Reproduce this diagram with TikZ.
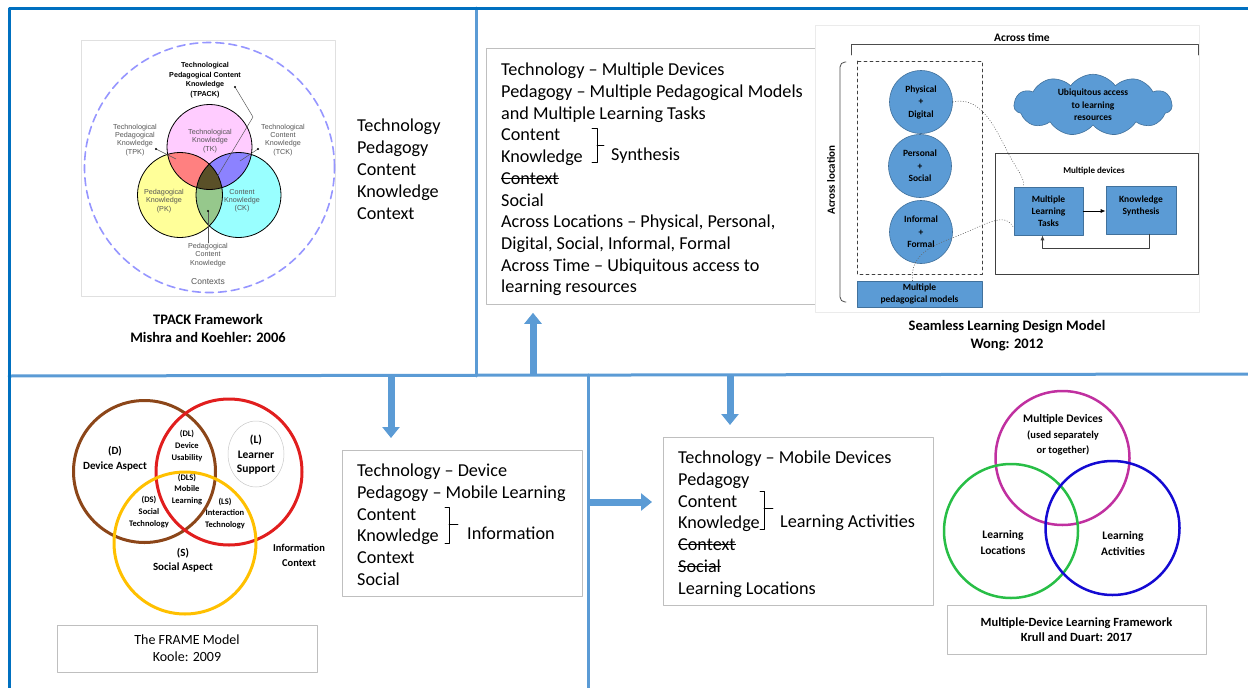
\documentclass[tikz,border=0pt]{standalone}
\usepackage{fontspec}
\setmainfont{Carlito}
\newfontfamily\arialfont{Liberation Sans}
\usetikzlibrary{arrows.meta,shapes.symbols,positioning}

\newsavebox\strkbox
\newcommand{\strk}[1]{\sbox\strkbox{#1}\rlap{\rule[0.3em]{\wd\strkbox}{0.06em}}\usebox\strkbox}

\definecolor{frameblue}{RGB}{0,112,192}
\definecolor{lineblue}{RGB}{91,155,213}
\definecolor{boxgray}{RGB}{191,191,191}
\definecolor{shapeblue}{RGB}{91,155,213}
\definecolor{shapeedge}{RGB}{65,113,156}
\definecolor{labelgray}{RGB}{85,85,85}
\definecolor{ctxviolet}{RGB}{150,150,255}
\definecolor{tkpink}{RGB}{255,204,255}
\definecolor{pkyellow}{RGB}{255,255,153}
\definecolor{ckcyan}{RGB}{153,255,255}
\definecolor{tpkred}{RGB}{255,128,128}
\definecolor{tckblue}{RGB}{140,130,255}
\definecolor{pckgreen}{RGB}{150,200,140}
\definecolor{tpackdark}{RGB}{90,80,40}
\definecolor{devbrown}{RGB}{140,70,25}
\definecolor{learnred}{RGB}{225,30,30}
\definecolor{socgold}{RGB}{255,192,0}
\definecolor{mdmagenta}{RGB}{192,48,160}
\definecolor{locgreen}{RGB}{40,190,70}
\definecolor{actblue}{RGB}{20,10,210}

\begin{document}
\begin{tikzpicture}[x=1pt,y=-1pt,line cap=round,line join=round,
  outerline/.style={draw=frameblue,line width=3pt},
  divline/.style={draw=lineblue,line width=3pt},
  bigarrow/.style={draw=lineblue,line width=7pt,line cap=butt,-{Triangle[width=17pt,length=11pt]}},
  txtbox/.style={draw=boxgray,line width=0.8pt,fill=white},
  listtxt/.style={anchor=north west,align=left,inner sep=0pt,font=\fontsize{18.2}{21.7}\selectfont},
  sidetxt/.style={anchor=base west,inner sep=0pt,font=\fontsize{18.2}{21.7}\selectfont},
  capbold/.style={align=center,inner sep=0pt,font=\bfseries\fontsize{14.5}{18}\selectfont},
  tpacklbl/.style={align=center,inner sep=0pt,text=labelgray,font=\arialfont\fontsize{7.2}{8.2}\selectfont},
  seamshape/.style={fill=shapeblue,draw=shapeedge,line width=0.6pt,align=center,inner sep=0pt,
    font=\bfseries\fontsize{9.5}{12.5}\selectfont},
  seamlbl/.style={align=center,inner sep=0pt,font=\bfseries\fontsize{9.5}{12}\selectfont},
  framelbl/.style={align=center,inner sep=0pt,font=\bfseries\fontsize{11}{14.5}\selectfont},
  framesmall/.style={align=center,inner sep=0pt,font=\bfseries\fontsize{8.5}{11.8}\selectfont},
  venn/.style={line width=3pt},
  mdllbl/.style={align=center,inner sep=0pt,font=\bfseries\fontsize{11.5}{16.5}\selectfont}]
\useasboundingbox (0,0) rectangle (1248,688);

% frame and dividers
\draw[divline] (9,376) -- (1248,374);
\draw[divline] (476,8) -- (476,376);
\draw[divline] (588,375) -- (588,688);
\draw[outerline] (9,688) -- (9,8) -- (1248,8);

% TPACK framework
\draw[draw=black!12,fill=white] (81,40) rectangle (335,296);
\coordinate (tk) at (209.5,147);
\coordinate (pk) at (180,195);
\coordinate (ck) at (238.5,195);
\fill[tkpink] (tk) circle[radius=42.5pt];
\fill[pkyellow] (pk) circle[radius=42.5pt];
\fill[ckcyan] (ck) circle[radius=42.5pt];
\begin{scope}
  \clip (pk) circle[radius=42.5pt];
  \fill[pckgreen] (ck) circle[radius=42.5pt];
\end{scope}
\begin{scope}
  \clip (tk) circle[radius=42.5pt];
  \fill[tpkred] (pk) circle[radius=42.5pt];
  \fill[tckblue] (ck) circle[radius=42.5pt];
  \clip (pk) circle[radius=42.5pt];
  \fill[tpackdark] (ck) circle[radius=42.5pt];
\end{scope}
\draw[line width=0.8pt] (tk) circle[radius=42.5pt] (pk) circle[radius=42.5pt] (ck) circle[radius=42.5pt];
\draw[ctxviolet,line width=1.6pt,dash pattern=on 8pt off 5pt] (209.5,167.5) circle[radius=125pt];

\node[tpacklbl,text=black,font=\arialfont\bfseries\fontsize{7.2}{9.5}\selectfont] (tpackLbl) at (205,80)
  {Technological\\Pedagogical Content\\Knowledge\\(TPACK)};
\node[tpacklbl] (tkLbl) at (210,141) {Technological\\Knowledge\\(TK)};
\node[tpacklbl] (tpkLbl) at (135,140) {Technological\\Pedagogical\\Knowledge\\(TPK)};
\node[tpacklbl] (tckLbl) at (283,140) {Technological\\Content\\Knowledge\\(TCK)};
\node[tpacklbl] (pkLbl) at (164,201) {Pedagogical\\Knowledge\\(PK)};
\node[tpacklbl] (ckLbl) at (242,201) {Content\\Knowledge\\(CK)};
\node[tpacklbl] (pckLbl) at (208,255) {Pedagogical\\Content\\Knowledge};
\node[tpacklbl,font=\arialfont\fontsize{8.5}{10}\selectfont] (ctxLbl) at (208,282) {Contexts};
\draw[labelgray,line width=0.5pt] (235,87) -- (253,117) -- (217,177);
\draw[labelgray,line width=0.5pt] (156,149) -- (176,159);
\draw[labelgray,line width=0.5pt] (258,149) -- (240,161);
\draw[labelgray,line width=0.5pt] (208,243) -- (208,211);
\fill[black] (235,87) circle[radius=1.2pt] (156,149) circle[radius=1.2pt]
  (258,149) circle[radius=1.2pt] (208,211) circle[radius=1.2pt];

\node[capbold] (tpackCap) at (208,328) {TPACK Framework\\Mishra and Koehler: 2006};
\node[listtxt,font=\fontsize{18.2}{22}\selectfont] (tpackList) at (357,119)
  {Technology\\Pedagogy\\Content\\Knowledge\\Context};

% list for the seamless model
\node[txtbox,anchor=north west,minimum width=329,minimum height=256] (seamBox) at (486,48) {};
\node[listtxt] (seamList) at (501,63)
  {Technology -- Multiple Devices\\Pedagogy -- Multiple Pedagogical Models\\and Multiple Learning Tasks\\
   Content\\Knowledge\\\strk{Context}\\Social\\Across Locations -- Physical, Personal,\\
   Digital, Social, Informal, Formal\\Across Time -- Ubiquitous access to\\learning resources};
\draw[line width=0.7pt] (592,128) -- (597,128) -- (597,162) -- (592,162) (597,145) -- (604,145);
\node[sidetxt] (synLbl) at (611,160) {Synthesis};

% seamless learning design model
\draw[draw=black!8,fill=white] (815,25) rectangle (1199,312);
\node[seamlbl,font=\bfseries\fontsize{11.5}{13}\selectfont] (timeLbl) at (1022,37) {Across time};
\draw[black!70,line width=0.8pt] (851,55) -- (851,44) -- (1198,44) -- (1198,55);
\node[seamlbl,font=\bfseries\fontsize{11}{13}\selectfont,rotate=90] (locLbl) at (831,180) {Across location};
\draw[black!70,line width=0.8pt,rounded corners=5pt] (846,62) -- (840,62) -- (840,302) -- (846,302);
\draw[black!75,line width=0.8pt,dashed] (857,61) rectangle (982,274);
\node[seamshape,circle,minimum size=63] (physDig) at (921,102) {Physical\\+\\Digital};
\node[seamshape,circle,minimum size=63] (persSoc) at (920,166) {Personal\\+\\Social};
\node[seamshape,circle,minimum size=63] (infForm) at (921,232) {Informal\\+\\Formal};
\node[seamshape,minimum width=125,minimum height=26,font=\bfseries\fontsize{9.5}{12}\selectfont] (pedModels) at (919.5,294)
  {Multiple\\pedagogical models};
\node[seamshape,cloud,cloud puffs=11,cloud puff arc=110,aspect=2.8,minimum width=158,minimum height=57] (ubiCloud) at (1093,105)
  {Ubiquitous access\\to learning\\resources};
\draw[black!75,line width=0.8pt] (995,153) rectangle (1198,274);
\node[seamlbl,font=\bfseries\fontsize{9}{11}\selectfont] (devLbl) at (1094,171) {Multiple devices};
\node[seamshape,minimum width=69,minimum height=48,font=\bfseries\fontsize{9.5}{12}\selectfont] (mlTasks) at (1048.5,211)
  {Multiple\\Learning\\Tasks};
\node[seamshape,minimum width=70,minimum height=48,font=\bfseries\fontsize{9.5}{12}\selectfont] (knSyn) at (1141,210)
  {Knowledge\\Synthesis\\[-2pt]};
\draw[line width=0.8pt,-{Latex[length=5pt,width=4pt]}] (mlTasks.east) -- (mlTasks.east -| knSyn.west);
\draw[black!75,line width=0.8pt,-{Latex[length=5pt,width=4pt]}] ([shift={(8,0)}]knSyn.south) -- ++(0,14) -| ([shift={(-6,0)}]mlTasks.south);
\draw[black!60,line width=0.6pt,dotted] (physDig.east) .. controls (985,94) and (1000,140) .. (1012,160)
  .. controls (1020,174) and (1024,178) .. ([shift={(10,0)}]mlTasks.north west);
\draw[black!60,line width=0.6pt,dotted] ([shift={(-7,0)}]pedModels.north) .. controls (910,255) and (930,246) .. (960,235)
  .. controls (990,222) and (1006,212) .. ([shift={(0,17)}]mlTasks.west);
\node[capbold] (seamCap) at (1007,336) {Seamless Learning Design Model\\Wong: 2012};

% arrows from the dividers
\coordinate (upFoot) at (533,376);
\coordinate (downFootA) at (391,376);
\coordinate (downFootB) at (730,375);
\coordinate (rightFoot) at (588,502);
\draw[bigarrow] (upFoot) -- ([shift={(0,8)}]upFoot |- seamBox.south);

% FRAME model
\draw[devbrown,venn] (144.5,471.5) circle[radius=71pt];
\draw[learnred,venn] (229,472) circle[radius=73pt];
\draw[socgold,venn] (185,543) circle[radius=71pt];
\draw[black!22,line width=0.5pt] (256,454) ellipse[x radius=28pt,y radius=33pt];
\node[framelbl] (devAsp) at (115,459) {(D)\\Device Aspect};
\node[framelbl,font=\bfseries\fontsize{11.5}{14.5}\selectfont] (lrnSup) at (256,455) {(L)\\Learner\\Support};
\node[framelbl] (socAsp) at (183,560.5) {(S)\\Social Aspect};
\node[framesmall] (devUse) at (187,446) {(DL)\\Device\\Usability};
\node[framesmall] (mobLrn) at (187,489.5) {(DLS)\\Mobile\\Learning};
\node[framesmall] (socTech) at (149,512) {(DS)\\Social\\Technology};
\node[framesmall] (intTech) at (225,513.5) {(LS)\\Interaction\\Technology};
\node[framelbl,font=\bfseries\fontsize{10.5}{15}\selectfont] (infCtx) at (299,555.5) {Information\\Context};
\node[draw=boxgray,line width=0.8pt,minimum width=260,minimum height=47,align=center,inner sep=0pt,
  font=\fontsize{14}{17}\selectfont] (frameCap) at (187,648.5) {The FRAME Model\\Koole: 2009};

% list for the FRAME model
\node[txtbox,anchor=north west,minimum width=240,minimum height=146] (frameBox) at (342,450) {};
\node[listtxt] (frameList) at (357,464)
  {Technology -- Device\\Pedagogy -- Mobile Learning\\Content\\Knowledge\\Context\\Social};
\draw[line width=0.7pt] (445,507) -- (449,507) -- (449,543) -- (445,543) (449,524) -- (458,524);
\node[sidetxt] (infLbl) at (467,539) {Information};
\draw[bigarrow] (downFootA) -- ([shift={(0,-12)}]downFootA |- frameBox.north);

% list for the multiple-device framework
\node[txtbox,anchor=north west,minimum width=270,minimum height=168] (mdlBox) at (663,437) {};
\node[listtxt] (mdlList) at (678,451)
  {Technology -- Mobile Devices\\Pedagogy\\Content\\Knowledge\\\strk{Context}\\\strk{Social}\\Learning Locations};
\draw[line width=0.7pt] (760,491) -- (764,491) -- (764,529) -- (760,529) (764,508) -- (773,508);
\node[sidetxt] (actLbl) at (780,527) {Learning Activities};
\draw[bigarrow] (downFootB) -- ([shift={(0,-12)}]downFootB |- mdlBox.north);
\draw[bigarrow] (rightFoot) -- ([shift={(-11,0)}]rightFoot -| mdlBox.west);

% multiple-device learning framework
\draw[mdmagenta,line width=2.5pt] (1062.5,458) circle[radius=67pt];
\draw[locgreen,line width=2.5pt] (1011,531) circle[radius=67pt];
\draw[actblue,line width=2.5pt] (1112.5,528) circle[radius=67pt];
\node[mdllbl] (mdDev) at (1063,419) {Multiple Devices};
\node[mdllbl,font=\bfseries\fontsize{10.5}{15}\selectfont] (mdUse) at (1063,442.5) {(used separately\\or together)};
\node[mdllbl] (mdLoc) at (1003,542.5) {Learning\\Locations};
\node[mdllbl] (mdAct) at (1123,543.5) {Learning\\Activities};
\node[draw=boxgray,line width=0.8pt,minimum width=259,minimum height=49,align=center,inner sep=0pt,
  font=\bfseries\fontsize{12.5}{15.5}\selectfont] (mdlCap) at (1076.5,629.5)
  {Multiple-Device Learning Framework\\Krull and Duart: 2017};
\end{tikzpicture}
\end{document}
